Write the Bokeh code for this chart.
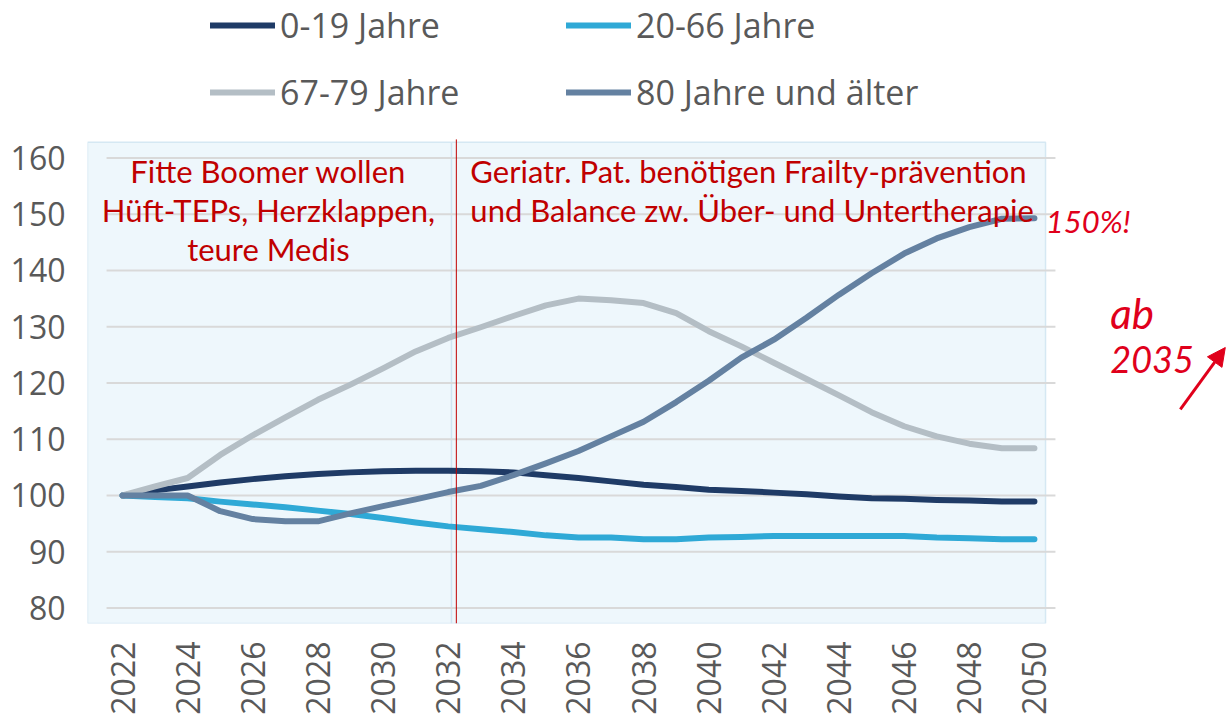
import math
from bokeh.plotting import figure
from bokeh.models import (Range1d, FixedTicker, Legend, LegendItem, Label, Arrow, NormalHead)
from bokeh.embed import file_html
from bokeh.resources import INLINE
from bokeh.core.properties import value

years = list(range(2022, 2051))
age_0_19 = [100, 100.9, 101.6, 102.3, 102.9, 103.4, 103.8, 104.1, 104.3, 104.4, 104.4,
            104.3, 104.1, 103.6, 103.1, 102.5, 101.9, 101.5, 101.0, 100.8, 100.5,
            100.2, 99.8, 99.5, 99.4, 99.2, 99.1, 98.9, 98.9]
age_20_66 = [100, 99.7, 99.5, 98.9, 98.4, 97.9, 97.3, 96.7, 96.0, 95.2, 94.5,
             94.0, 93.5, 92.9, 92.5, 92.5, 92.2, 92.2, 92.5, 92.6, 92.8,
             92.8, 92.8, 92.8, 92.8, 92.5, 92.4, 92.2, 92.2]
age_67_79 = [100, 101.6, 103.1, 107.2, 110.7, 113.9, 117.0, 119.7, 122.6, 125.6, 128.0,
             129.9, 131.9, 133.8, 135.0, 134.7, 134.2, 132.4, 129.2, 126.5, 123.6,
             120.7, 117.8, 114.8, 112.3, 110.5, 109.2, 108.4, 108.4]
age_80_plus = [100, 100, 100, 97.2, 95.8, 95.4, 95.4, 96.8, 98.1, 99.3, 100.6,
               101.7, 103.6, 105.7, 107.9, 110.5, 113.1, 116.6, 120.4, 124.5, 127.7,
               131.6, 135.7, 139.5, 143.0, 145.7, 147.7, 149.2, 149.3]

series_labels = ["0-19 Jahre", "20-66 Jahre", "67-79 Jahre", "80 Jahre und älter"]
series_colors = ["#1F3B66", "#2FA9D6", "#B4BEC5", "#6481A1"]
x_ticks = list(range(2022, 2051, 2))
y_ticks = list(range(80, 161, 10))

note_left = ["Fitte Boomer wollen", "Hüft-TEPs, Herzklappen,", "teure Medis"]
note_right = ["Geriatr. Pat. benötigen Frailty-prävention",
              "und Balance zw. Über- und Untertherapie"]
split_year = 2032.25

X0, X1 = 2020.925, 2056.02
Y0, Y1 = 77.23, 188.0
p = figure(width=1230, height=717, output_backend="svg", toolbar_location=None,
           x_range=Range1d(X0, X1), y_range=Range1d(Y0, Y1),
           min_border_left=87, min_border_right=0, min_border_top=0,
           min_border_bottom=89)
p.outline_line_color = None
p.background_fill_color = "white"
p.border_fill_color = "white"
p.xgrid.visible = False
p.ygrid.visible = False

# shaded panel
box_right, box_top = 2050.34, 162.79
p.quad(left=[X0], right=[box_right], bottom=[Y0], top=[box_top],
       fill_color="#EEF7FC", line_color="#D5E8F3", line_width=1.5)
p.segment(x0=[split_year - 0.15], x1=[split_year - 0.15], y0=[Y0], y1=[box_top],
          line_color="#CFE5F2", line_width=1.5)

# horizontal grid lines
p.segment(x0=[2021.51] * len(y_ticks), x1=[2050.645] * len(y_ticks),
          y0=y_ticks, y1=y_ticks, line_color="#D9D9D9", line_width=2)

renderers = []
for data, col in zip([age_0_19, age_20_66, age_67_79, age_80_plus], series_colors):
    r = p.line(years, data, line_color=col, line_width=6, line_cap="round",
               line_join="round")
    renderers.append(r)

p.segment(x0=[split_year], x1=[split_year], y0=[Y0], y1=[163.3],
          line_color="#C00000", line_width=1)

# axes
p.xaxis.ticker = FixedTicker(ticks=x_ticks)
p.yaxis.ticker = FixedTicker(ticks=y_ticks)
for ax in (p.xaxis[0], p.yaxis[0]):
    ax.axis_line_color = None
    ax.major_tick_line_color = None
    ax.minor_tick_line_color = None
    ax.major_label_text_font = "Open Sans"
    ax.major_label_text_font_size = "32px"
    ax.major_label_text_color = "#595959"
p.xaxis.major_label_orientation = math.pi / 2
p.xaxis.major_label_standoff = 12
p.yaxis.major_label_standoff = 16

# red notes
p.text(x=[2026.48] * 3, y=[157.67, 150.8, 143.9], text=note_left,
       text_font=value("Lato"), text_font_size="31px", text_color="#C00000",
       text_align="center", text_baseline="middle")
p.text(x=[2032.68] * 2, y=[157.67, 150.8], text=note_right,
       text_font=value("Lato"), text_font_size="31px", text_color="#C00000",
       text_align="left", text_baseline="middle")

# handwritten remarks
red_hand = "#E0001B"
p.add_layout(Label(x=2050.35, y=148.85, text="150%!", text_font="Lato",
                   text_font_style="italic", text_font_size="31px",
                   text_color=red_hand, text_baseline="middle"))
p.add_layout(Label(x=2052.33, y=132.45, text="ab", text_font="Lato",
                   text_font_style="italic", text_font_size="42px",
                   text_color=red_hand, text_baseline="middle"))
p.add_layout(Label(x=2052.33, y=124.2, text="2035", text_font="Lato",
                   text_font_style="italic", text_font_size="36px",
                   text_color=red_hand, text_baseline="middle"))
p.add_layout(Arrow(x_start=2054.48, y_start=115.3, x_end=2055.86, y_end=126.3,
                   line_color=red_hand, line_width=3,
                   end=NormalHead(size=18, fill_color=red_hand, line_color=red_hand)))

# legend: column-major fill -> order so rows read (0-19, 20-66), (67-79, 80+)
legend_order = [0, 2, 1, 3]
legend = Legend(items=[LegendItem(label=series_labels[i], renderers=[renderers[i]])
                       for i in legend_order],
                ncols=2, location=(123, 508), glyph_width=65, glyph_height=44,
                label_height=44, label_width=265, label_standoff=5, spacing=21,
                padding=0, margin=0, border_line_color=None, background_fill_alpha=0,
                label_text_font="Open Sans", label_text_font_size="34px",
                label_text_color="#595959")
p.add_layout(legend, "center")

open("out.html", "w").write(file_html(p, INLINE))
